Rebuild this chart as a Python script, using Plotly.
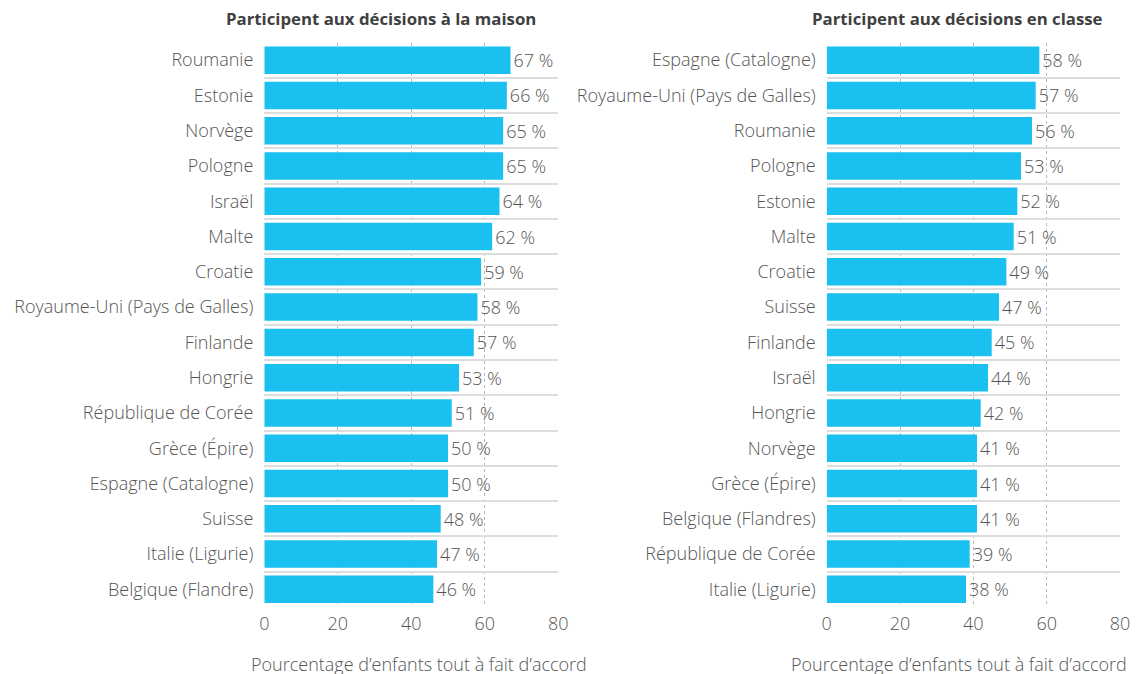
import plotly.graph_objects as go

home_countries = ["Roumanie", "Estonie", "Norvège", "Pologne", "Israël", "Malte", "Croatie",
                  "Royaume-Uni (Pays de Galles)", "Finlande", "Hongrie", "République de Corée",
                  "Grèce (Épire)", "Espagne (Catalogne)", "Suisse", "Italie (Ligurie)", "Belgique (Flandre)"]
home_values = [67, 66, 65, 65, 64, 62, 59, 58, 57, 53, 51, 50, 50, 48, 47, 46]

class_countries = ["Espagne (Catalogne)", "Royaume-Uni (Pays de Galles)", "Roumanie", "Pologne", "Estonie",
                   "Malte", "Croatie", "Suisse", "Finlande", "Israël", "Hongrie", "Norvège", "Grèce (Épire)",
                   "Belgique (Flandres)", "République de Corée", "Italie (Ligurie)"]
class_values = [58, 57, 56, 53, 52, 51, 49, 47, 45, 44, 42, 41, 41, 41, 39, 38]

titles = ["Participent aux décisions à la maison", "Participent aux décisions en classe"]
x_title = "Pourcentage d’enfants tout à fait d’accord"
x_ticks = [0, 20, 40, 60, 80]

W, H = 1136, 674
BAR = "#19C0F0"
TXT = "#555555"
FONT = "Open Sans, Roboto, Liberation Sans, sans-serif"
FS = 18

fig = go.Figure()
panels = [(home_countries, home_values, "x", "y", 264.3, 558.3, 381, 418.5),
          (class_countries, class_values, "x2", "y2", 826.7, 1120.0, 957, 958.5)]
top, bottom = 42.5, 607.0

for i, (cats, vals, xa, ya, x0, x1, tcx, acx) in enumerate(panels):
    fig.add_trace(go.Bar(
        x=vals, y=cats, orientation="h", xaxis=xa, yaxis=ya,
        marker=dict(color=BAR, line=dict(width=0)),
        text=[f"{v} %" for v in vals], textposition="outside",
        textfont=dict(size=FS, color=TXT, family=FONT, weight=300),
        cliponaxis=False, showlegend=False, hoverinfo="skip",
    ))
    sfx = "" if i == 0 else "2"
    fig.update_layout(**{
        "xaxis" + sfx: dict(
            domain=[x0 / W, x1 / W], range=[0, 80], tickvals=x_ticks,
            showgrid=True, gridcolor="#b8b8b8", griddash="dot", gridwidth=1,
            zeroline=False, showline=False, ticks="", automargin=False,
            tickfont=dict(size=FS, color=TXT, family=FONT, weight=300),
            anchor="y" + sfx, fixedrange=True, ticklabelstandoff=4,
        ),
        "yaxis" + sfx: dict(
            domain=[1 - bottom / H, 1 - top / H], autorange="reversed",
            type="category", tickson="boundaries", showgrid=True,
            gridcolor="#dddddd", gridwidth=1.5, ticks="", zeroline=False,
            automargin=False,
            tickfont=dict(size=FS, color=TXT, family=FONT, weight=300),
            anchor="x" + sfx, ticklabelstandoff=10, fixedrange=True,
        ),
    })
    fig.add_annotation(text=f"<b>{titles[i]}</b>", x=tcx / W, y=1 - 18 / H, xref="paper", yref="paper",
                       showarrow=False, font=dict(size=16.8, color="#404040", family=FONT),
                       xanchor="center", yanchor="middle")
    fig.add_annotation(text=x_title, x=acx / W, y=1 - 664 / H, xref="paper", yref="paper",
                       showarrow=False, font=dict(size=FS, color=TXT, family=FONT, weight=300),
                       xanchor="center", yanchor="middle")

fig.update_layout(
    width=W, height=H, margin=dict(l=0, r=0, t=0, b=0, autoexpand=False),
    paper_bgcolor="white", plot_bgcolor="white",
    bargap=0.22, font=dict(family=FONT, color=TXT),
)

fig.write_html("out.html", config={"displayModeBar": False},
               post_script="document.body.style.margin='0';document.body.style.overflow='hidden';")
